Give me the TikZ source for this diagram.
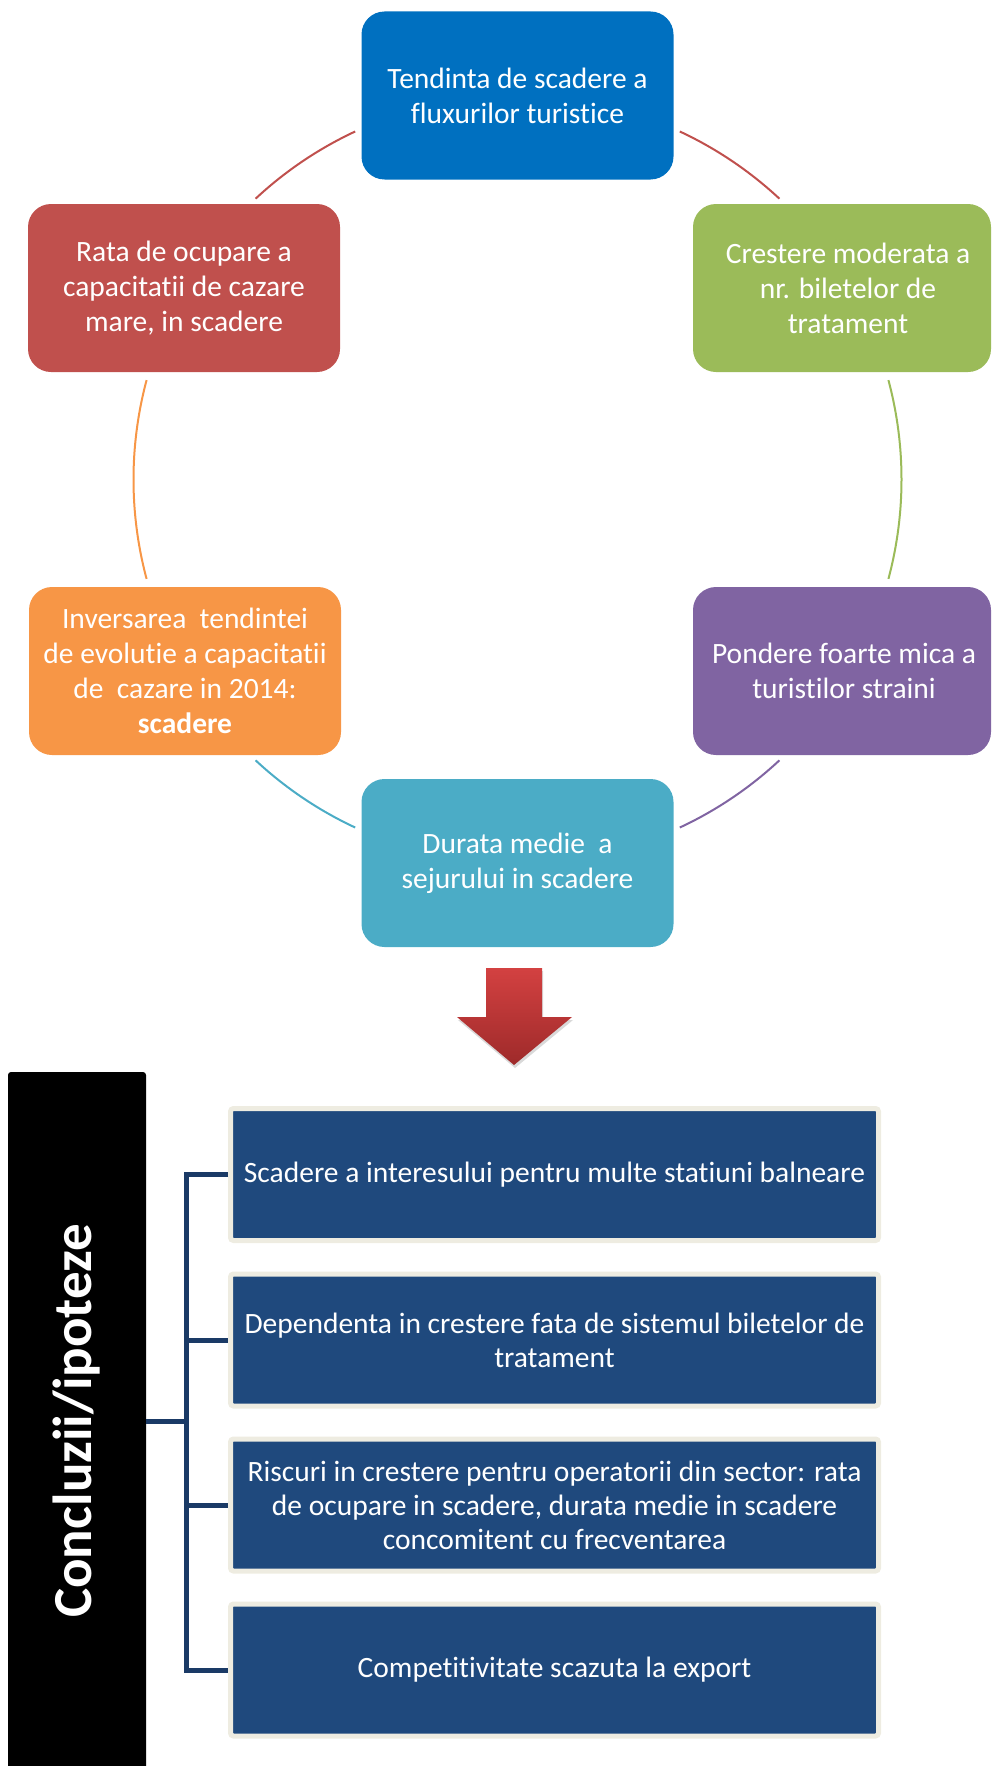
\documentclass[tikz,border=0pt]{standalone}
\usepackage{fontspec}
\setmainfont{Carlito}[Ligatures={NoCommon}]
\usetikzlibrary{shadows}
\definecolor{cblue}{HTML}{0070C0}
\definecolor{cgreen}{HTML}{9BBB59}
\definecolor{cred}{HTML}{C0504D}
\definecolor{corange}{HTML}{F79646}
\definecolor{cpurple}{HTML}{8064A2}
\definecolor{caqua}{HTML}{4BACC6}
\definecolor{dbluebox}{HTML}{1F497D}
\definecolor{beigeedge}{HTML}{EEECE1}
\definecolor{connblue}{HTML}{1A3A66}
\definecolor{arrtop}{HTML}{D34141}
\definecolor{arrbot}{HTML}{9E2A2A}
\begin{document}
\begin{tikzpicture}[x=1pt,y=-1pt,
  cyc/.style={rounded corners=23, minimum width=312, minimum height=168, inner sep=0,
    align=center, text=white, font=\fontsize{29.5}{35}\selectfont},
  arcline/.style={line width=2},
  dbox/.style={fill=dbluebox, draw=beigeedge, line width=5, rounded corners=3,
    minimum width=648, minimum height=132, inner sep=0, align=center, text=white,
    font=\fontsize{29.5}{34}\selectfont},
  conn/.style={draw=connblue, line width=5},
  barbox/.style={fill=black, rounded corners=3, rotate=90, minimum width=698,
    minimum height=138, inner sep=0, text=white, font=\fontsize{55}{60}\selectfont\bfseries}
]
\useasboundingbox (0,0) rectangle (992,1766);

% cycle boxes
\node[cyc, fill=cblue] (n1) at (517.5,95.5) {Tendinta de scadere a\\fluxurilor turistice};
\node[cyc, fill=cgreen, minimum width=298] (n2) at (842,288) {\hspace*{12pt}Crestere moderata a\\\hspace*{12pt}nr. biletelor de\\\hspace*{12pt}tratament};
\node[cyc, fill=cpurple, minimum width=298] (n3) at (842,671) {\hspace*{4pt}Pondere foarte mica a\\\hspace*{4pt}turistilor straini};
\node[cyc, fill=caqua] (n4) at (517.5,863) {Durata medie\ \ a\\sejurului in scadere};
\node[cyc, fill=corange] (n5) at (185,671) {Inversarea\ \ tendintei\\de evolutie a capacitatii\\de\ \ cazare in 2014:\\\textbf{scadere}};
\node[cyc, fill=cred] (n6) at (184,288) {Rata de ocupare a\\capacitatii de cazare\\mare, in scadere};

% circle arcs
\coordinate (O) at (517.5,479.5);
\path (O) ++(-133:384) coordinate (a1);
\path (O) ++(-65:384) coordinate (a2);
\path (O) ++(15:384) coordinate (a3);
\path (O) ++(-313:384) coordinate (a4);
\path (O) ++(-245:384) coordinate (a5);
\path (O) ++(-195:384) coordinate (a6);
\draw[arcline, cred] (a1) arc[start angle=-133, end angle=-115, radius=384];
\draw[arcline, cred] (a2) arc[start angle=-65, end angle=-47, radius=384];
\draw[arcline, cgreen] (a3) arc[start angle=15, end angle=-15, radius=384];
\draw[arcline, cpurple] (a4) arc[start angle=-313, end angle=-295, radius=384];
\draw[arcline, caqua] (a5) arc[start angle=-245, end angle=-227, radius=384];
\draw[arcline, corange] (a6) arc[start angle=-195, end angle=-165, radius=384];

% arrow
\path[top color=arrtop, bottom color=arrbot,
  drop shadow={opacity=0.3, shadow xshift=1pt, shadow yshift=-3pt}]
  (486,968) -- (542,968) -- (542,1017) -- (572,1017) -- (514,1065) -- (457,1017) -- (486,1017) -- cycle;

% conclusions
\node[barbox] (bar) at (77,1421) {Concluzii/ipoteze};
\node[dbox] (b1) at (554.5,1174.5) {Scadere a interesului pentru multe statiuni balneare};
\node[dbox] (b2) at (554.5,1340) {Dependenta in crestere fata de sistemul biletelor de\\tratament};
\node[dbox] (b3) at (554.5,1505) {Riscuri in crestere pentru operatorii din sector: rata\\de ocupare in scadere, durata medie in scadere\\concomitent cu frecventarea};
\node[dbox] (b4) at (554.5,1670) {Competitivitate scazuta la export};

\coordinate (sp) at (186.5,1174.5);
\draw[conn] (b1.west) -- (sp) |- (b4.west);
\draw[conn] (sp |- b2.west) -- (b2.west);
\draw[conn] (sp |- b3.west) -- (b3.west);
\draw[conn] (bar.south) -- (bar.south -| sp);
\end{tikzpicture}
\end{document}
